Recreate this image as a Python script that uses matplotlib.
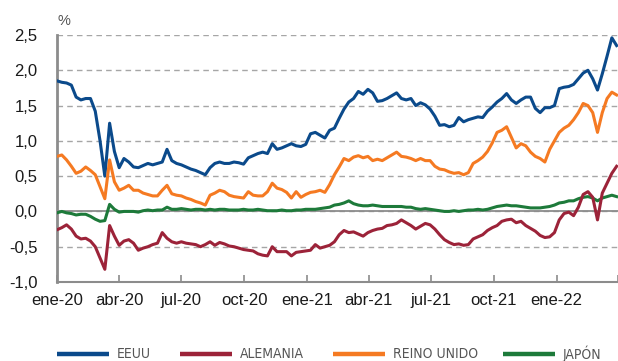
import pandas as pd
import matplotlib.pyplot as plt
from matplotlib.lines import Line2D

# Rentabilidad de la deuda pública a 10 años (%), datos semanales
fechas = pd.date_range('2020-01-01', periods=118, freq='7D')

eeuu = [1.85, 1.83, 1.82, 1.79, 1.62, 1.58, 1.60, 1.60, 1.42, 1.00,
        0.50, 1.25, 0.85, 0.62, 0.75, 0.70, 0.63, 0.62, 0.65, 0.68,
        0.66, 0.68, 0.70, 0.88, 0.72, 0.68, 0.66, 0.63, 0.60, 0.58,
        0.55, 0.52, 0.62, 0.68, 0.70, 0.68, 0.68, 0.70, 0.69, 0.67,
        0.76, 0.79, 0.82, 0.84, 0.82, 0.96, 0.88, 0.90, 0.93, 0.96,
        0.93, 0.92, 0.95, 1.10, 1.12, 1.08, 1.04, 1.15, 1.18, 1.32,
        1.45, 1.55, 1.60, 1.70, 1.66, 1.73, 1.68, 1.56, 1.57, 1.60,
        1.64, 1.68, 1.60, 1.58, 1.60, 1.50, 1.54, 1.51, 1.45, 1.35,
        1.22, 1.23, 1.20, 1.22, 1.33, 1.27, 1.30, 1.32, 1.34, 1.33,
        1.42, 1.48, 1.55, 1.60, 1.67, 1.58, 1.53, 1.58, 1.62, 1.62,
        1.46, 1.40, 1.47, 1.47, 1.50, 1.74, 1.76, 1.77, 1.80, 1.88,
        1.96, 2.00, 1.88, 1.72, 1.95, 2.20, 2.46, 2.35]

alemania = [-0.26, -0.23, -0.19, -0.25, -0.35, -0.39, -0.38, -0.42, -0.50, -0.66,
            -0.82, -0.20, -0.35, -0.48, -0.42, -0.40, -0.45, -0.55, -0.52, -0.50,
            -0.47, -0.45, -0.30, -0.38, -0.43, -0.45, -0.43, -0.45, -0.46, -0.47,
            -0.50, -0.47, -0.43, -0.48, -0.44, -0.46, -0.49, -0.50, -0.52, -0.54,
            -0.55, -0.56, -0.60, -0.62, -0.63, -0.50, -0.57, -0.57, -0.57, -0.63,
            -0.58, -0.57, -0.56, -0.55, -0.47, -0.52, -0.50, -0.48, -0.43, -0.33,
            -0.27, -0.30, -0.29, -0.32, -0.35, -0.30, -0.27, -0.25, -0.24, -0.20,
            -0.19, -0.17, -0.12, -0.16, -0.20, -0.25, -0.21, -0.17, -0.19, -0.25,
            -0.33, -0.40, -0.44, -0.47, -0.46, -0.48, -0.47, -0.39, -0.36, -0.33,
            -0.27, -0.23, -0.20, -0.14, -0.12, -0.11, -0.16, -0.14, -0.20, -0.24,
            -0.28, -0.34, -0.37, -0.36, -0.30, -0.12, -0.03, -0.01, -0.06, 0.06,
            0.24, 0.28, 0.20, -0.12, 0.26, 0.40, 0.54, 0.64]

reino_unido = [0.78, 0.80, 0.73, 0.64, 0.54, 0.57, 0.63, 0.58, 0.52, 0.35,
               0.18, 0.73, 0.42, 0.30, 0.33, 0.37, 0.30, 0.30, 0.26, 0.24,
               0.22, 0.22, 0.30, 0.37, 0.25, 0.23, 0.22, 0.19, 0.17, 0.14,
               0.12, 0.09, 0.23, 0.26, 0.30, 0.28, 0.23, 0.21, 0.20, 0.19,
               0.28, 0.23, 0.22, 0.22, 0.28, 0.40, 0.33, 0.31, 0.27, 0.19,
               0.28, 0.20, 0.24, 0.27, 0.28, 0.30, 0.27, 0.38, 0.52, 0.63,
               0.75, 0.72, 0.77, 0.79, 0.76, 0.78, 0.72, 0.74, 0.72, 0.76,
               0.80, 0.84, 0.78, 0.77, 0.75, 0.72, 0.75, 0.72, 0.72, 0.64,
               0.60, 0.59, 0.56, 0.54, 0.55, 0.52, 0.55, 0.68, 0.72, 0.77,
               0.85, 0.97, 1.12, 1.15, 1.20, 1.05, 0.90, 0.96, 0.93, 0.84,
               0.78, 0.75, 0.70, 0.88, 1.00, 1.12, 1.18, 1.22, 1.30, 1.40,
               1.53, 1.50, 1.40, 1.12, 1.40, 1.60, 1.69, 1.65]

japon = [-0.02, 0.00, -0.02, -0.03, -0.05, -0.04, -0.04, -0.07, -0.11, -0.14,
         -0.13, 0.10, 0.03, -0.01, 0.00, 0.00, 0.00, -0.01, 0.01, 0.02,
         0.01, 0.02, 0.02, 0.06, 0.03, 0.03, 0.04, 0.03, 0.02, 0.03,
         0.03, 0.02, 0.03, 0.02, 0.03, 0.03, 0.02, 0.02, 0.02, 0.03,
         0.02, 0.02, 0.03, 0.02, 0.01, 0.01, 0.01, 0.02, 0.01, 0.01,
         0.02, 0.02, 0.03, 0.03, 0.03, 0.04, 0.05, 0.06, 0.09, 0.10,
         0.12, 0.15, 0.11, 0.09, 0.08, 0.08, 0.09, 0.08, 0.07, 0.07,
         0.07, 0.07, 0.07, 0.06, 0.06, 0.04, 0.03, 0.04, 0.03, 0.02,
         0.01, 0.00, 0.00, 0.01, 0.00, 0.01, 0.02, 0.02, 0.03, 0.02,
         0.03, 0.05, 0.07, 0.08, 0.09, 0.08, 0.08, 0.07, 0.06, 0.05,
         0.05, 0.05, 0.06, 0.07, 0.09, 0.12, 0.13, 0.15, 0.15, 0.18,
         0.20, 0.21, 0.19, 0.15, 0.19, 0.21, 0.23, 0.21]

series = ['EEUU', 'ALEMANIA', 'REINO UNIDO', 'JAPÓN']
valores = [eeuu, alemania, reino_unido, japon]
colores = ['#0b4a8b', '#9c2339', '#f57a22', '#1d7a3a']

tick_fechas = pd.date_range('2020-01-01', '2022-04-01', freq='QS')
tick_labels = ['ene-20', 'abr-20', 'jul-20', 'oct-20', 'ene-21',
               'abr-21', 'jul-21', 'oct-21', 'ene-22', '']
y_ticks = [-1.0, -0.5, 0.0, 0.5, 1.0, 1.5, 2.0, 2.5]

plt.rcParams['font.family'] = ['Liberation Sans', 'DejaVu Sans']

W, H = 618, 361
fig = plt.figure(figsize=(W / 100, H / 100), dpi=100)
ax = fig.add_axes([57 / W, 1 - 282 / H, (W - 57) / W, (282 - 35) / H])

# dashed grid, solid zero line drawn on top of it
ax.set_axisbelow(True)
ax.yaxis.grid(True, linestyle=(0, (4, 3)), color='#a6a6a6', lw=1.0)
ax.axhline(0, color='#8c8c8c', lw=1.3, zorder=1)

# Japón first so the other series sit on top
for i in [3, 0, 2, 1]:
    ax.plot(fechas, valores[i], color=colores[i], lw=2.2,
            solid_joinstyle='round', zorder=3)

ax.set_xlim(pd.Timestamp('2020-01-01'), pd.Timestamp('2022-04-01'))
ax.set_ylim(-1.0, 2.5)
ax.set_xticks(tick_fechas)
ax.set_xticklabels(tick_labels)
ax.set_yticks(y_ticks)
ax.set_yticklabels([f'{v:.1f}'.replace('.', ',') for v in y_ticks])

ax.tick_params(axis='x', direction='in', length=5, width=1.2, color='#8c8c8c',
               labelsize=12, labelcolor='#1a1a1a', pad=8)
ax.tick_params(axis='y', length=0, labelsize=12, labelcolor='#1a1a1a', pad=14)

for lado in ['top', 'right']:
    ax.spines[lado].set_visible(False)
ax.spines['left'].set_color('#8c8c8c')
ax.spines['left'].set_linewidth(2.0)
ax.spines['bottom'].set_color('#8c8c8c')
ax.spines['bottom'].set_linewidth(1.5)

fig.text(58 / W, 1 - 21 / H, '%', fontsize=10.5, color='#555555', va='center')

# leyenda inferior
leyenda_x = [57, 180, 333, 503]
y_ley = 1 - 354 / H
for x0, nombre, color in zip(leyenda_x, series, colores):
    fig.add_artist(Line2D([x0 / W, (x0 + 52) / W], [y_ley, y_ley],
                          color=color, lw=3.2, solid_capstyle='butt'))
    fig.text((x0 + 60) / W, y_ley, nombre, fontsize=10,
             family='DejaVu Sans', fontstretch='condensed',
             color='#555555', va='center')

fig.savefig('out.png', dpi=100)
